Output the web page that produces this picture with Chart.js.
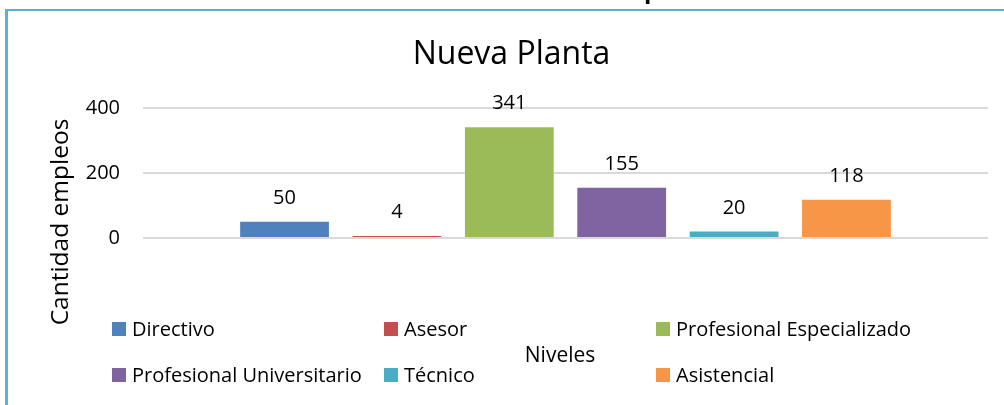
<!DOCTYPE html>
<html>
<head>
<meta charset="utf-8">
<script src="https://cdn.jsdelivr.net/npm/chart.js@4.4.0/dist/chart.umd.min.js"></script>
<style>
    body { margin: 0; background: #fff; font-family: 'Open Sans', sans-serif; color: #000; }
    #wrap { position: relative; width: 1004px; height: 405px; overflow: hidden; }
    #frame { position: absolute; left: 5px; top: 9px; right: -10px; bottom: -10px;
             border-top: 2px solid #5bb3ca; border-left: 3px solid #5bb3ca; pointer-events: none; }
    #cut { position: absolute; left: 644px; top: -23px; font: bold 24px/24px 'Open Sans'; }
    #ytitle { position: absolute; left: 59px; top: 222px; transform: translate(-50%, -50%) rotate(-90deg);
              font-size: 24.5px; line-height: 24px; white-space: nowrap; }
    #legend { position: absolute; left: 112px; top: 318px; display: grid;
              grid-template-columns: 272px 272px auto; grid-auto-rows: 46px;
              font-size: 20px; line-height: 22px; white-space: nowrap; }
    .item { display: flex; align-items: flex-start; height: 22px; }
    .box { width: 14px; height: 14px; margin-top: 4px; margin-right: 6px; }
</style>
</head>
<body>
<div id="wrap">
    <canvas id="chart"></canvas>
    <div id="cut">p</div>
    <div id="frame"></div>
    <div id="ytitle">Cantidad empleos</div>
    <div id="legend"></div>
</div>
<script>
// Data
const levels = ['Directivo', 'Asesor', 'Profesional Especializado', 'Profesional Universitario', 'Técnico', 'Asistencial'];
const employees = [50, 4, 341, 155, 20, 118];
const levelColors = ['#4f81bd', '#c0504d', '#9bbb59', '#8064a2', '#4bacc6', '#f79646'];
const yTicks = [0, 200, 400];

Chart.defaults.font.family = "'Open Sans', sans-serif";
Chart.defaults.color = '#000';

// Values drawn above each bar
const valueLabels = {
    id: 'valueLabels',
    afterDatasetsDraw(chart) {
        const ctx = chart.ctx;
        ctx.save();
        ctx.font = "20px 'Open Sans'";
        ctx.fillStyle = '#000';
        ctx.textAlign = 'center';
        ctx.textBaseline = 'alphabetic';
        chart.data.datasets.forEach((ds, i) => {
            chart.getDatasetMeta(i).data.forEach((bar, j) => {
                ctx.fillText(ds.data[j], bar.x, bar.y - 18);
            });
        });
        ctx.restore();
    }
};

function buildLegend() {
    // Excel fills the legend row by row, three columns
    document.getElementById('legend').innerHTML = levels.map((name, i) => `
        <div class="item"><span class="box" style="background:${levelColors[i]}"></span>${name}</div>
    `).join('');
}

function createChart() {
    new Chart(document.getElementById('chart'), {
        type: 'bar',
        data: {
            labels: [''],
            datasets: levels.map((name, i) => ({
                label: name,
                data: [employees[i]],
                backgroundColor: levelColors[i],
                borderWidth: 0,
                minBarLength: 2,
                categoryPercentage: 0.798,
                barPercentage: 0.79
            }))
        },
        options: {
            responsive: true,
            maintainAspectRatio: false,
            animation: false,
            events: [],
            layout: { padding: { left: 35, right: 16, top: 0, bottom: 0 } },
            plugins: {
                legend: { display: false },
                tooltip: { enabled: false },
                title: {
                    display: true,
                    text: 'Nueva Planta',
                    font: { size: 32, weight: 'normal' },
                    color: '#000',
                    padding: { top: 36, bottom: 33.6 }
                }
            },
            scales: {
                x: {
                    grid: { display: false, drawTicks: false },
                    border: { display: false },
                    ticks: { display: false },
                    title: {
                        display: true,
                        text: 'Niveles  ',
                        font: { size: 21 },
                        color: '#000',
                        padding: { top: 105.9, bottom: 35.9 }
                    }
                },
                y: {
                    min: yTicks[0],
                    max: yTicks[yTicks.length - 1],
                    afterBuildTicks: s => { s.ticks = yTicks.map(v => ({ value: v })); },
                    afterFit: s => { s.width = 108; },
                    grid: { color: '#d9d9d9', lineWidth: 2, drawTicks: false },
                    border: { display: false },
                    ticks: { padding: 23, font: { size: 20 }, color: '#000' }
                }
            }
        },
        plugins: [valueLabels]
    });
}

buildLegend();
createChart();
</script>
</body>
</html>
